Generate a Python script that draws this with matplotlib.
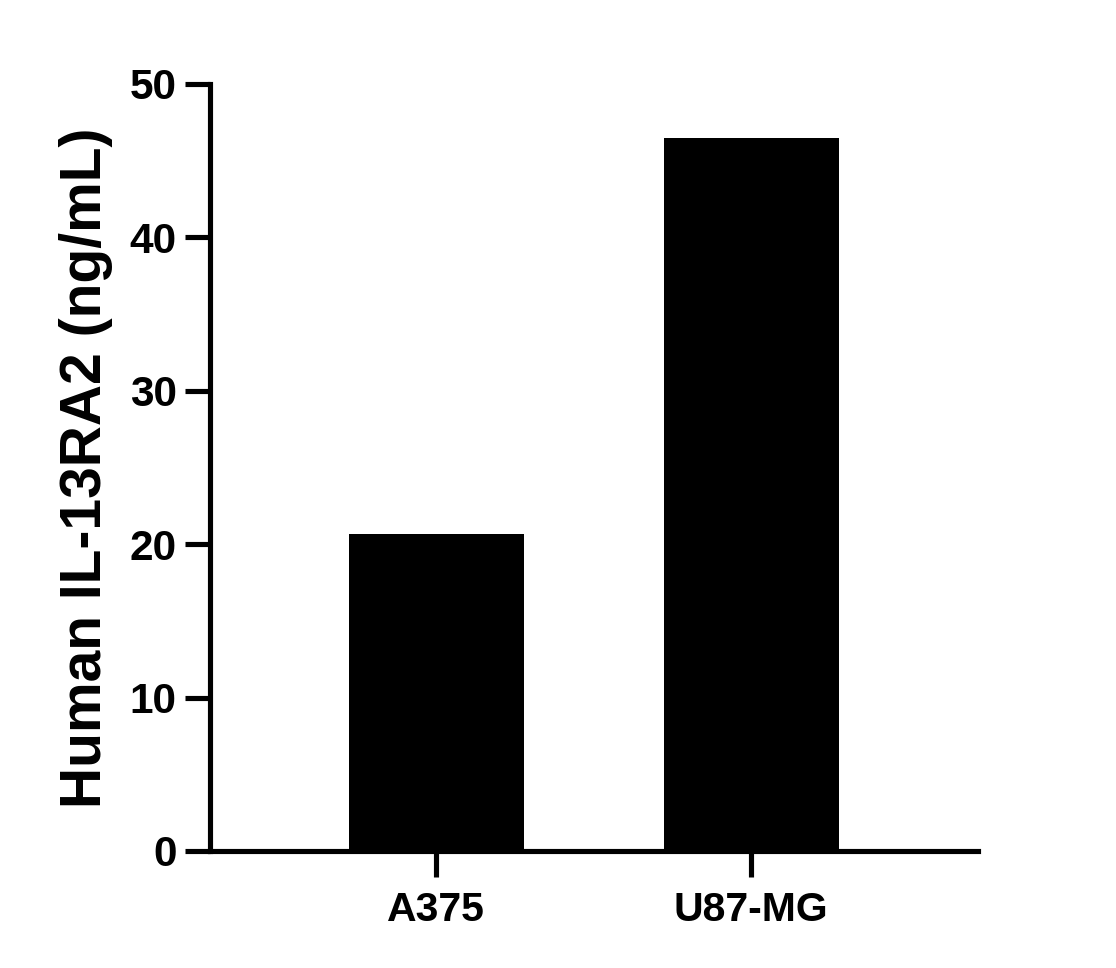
import matplotlib
matplotlib.use('Agg')
import matplotlib.pyplot as plt

# === DATOS ===
lineas_celulares = ['A375', 'U87-MG']
concentraciones = [20.65, 46.5]
ticks_y = [0, 10, 20, 30, 40, 50]

plt.rcParams['font.family'] = ['Liberation Sans', 'DejaVu Sans']
plt.rcParams['font.weight'] = 'bold'

fig = plt.figure(figsize=(11.16, 9.68), dpi=100)
ax = fig.add_axes([210 / 1116, 1 - 851 / 968, (978 - 210) / 1116, (851 - 84) / 968])

pos = range(len(lineas_celulares))
ax.bar(pos, concentraciones, width=0.555, color='black', edgecolor='none')

ax.set_xlim(-0.718, 1.72)
ax.set_ylim(0, 50)
ax.set_yticks(ticks_y)
ax.set_xticks(list(pos))
ax.set_xticklabels(lineas_celulares)

for lado in ['top', 'right']:
    ax.spines[lado].set_visible(False)
for lado in ['left', 'bottom']:
    ax.spines[lado].set_linewidth(3.7)
    ax.spines[lado].set_capstyle('projecting')

ax.tick_params(axis='y', length=18, width=3.7, labelsize=30.5, pad=6)
ax.tick_params(axis='x', length=18.5, width=3.7, labelsize=29.5, pad=10)
for t in ax.get_xticklabels() + ax.get_yticklabels():
    t.set_fontweight('bold')

ax.set_ylabel('Human IL-13RA2 (ng/mL)', fontsize=41, fontweight='bold', labelpad=12)

fig.savefig('out.png', dpi=100)
